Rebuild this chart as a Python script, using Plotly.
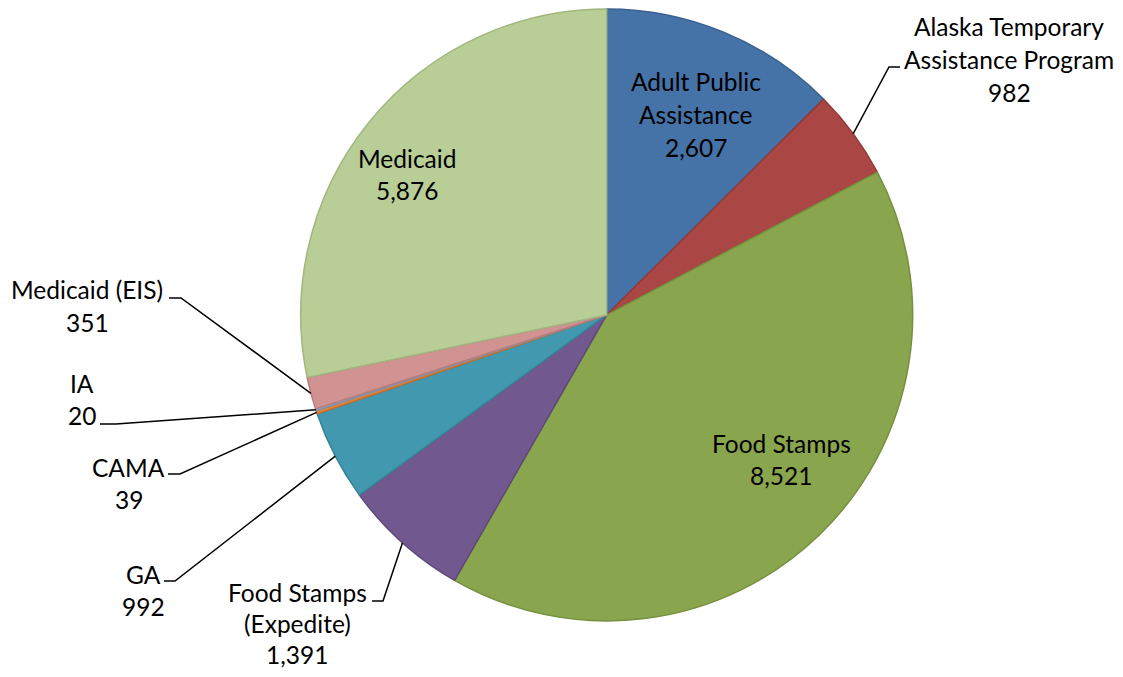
import math
import plotly.graph_objects as go

# ---- data ----
categories = ["Adult Public Assistance", "Alaska Temporary Assistance Program",
              "Food Stamps", "Food Stamps (Expedite)", "GA", "CAMA", "IA",
              "Medicaid (EIS)", "Medicaid"]
values = [2607, 982, 8521, 1391, 992, 39, 20, 351, 5876]
label_lines = [["Adult Public", "Assistance"],
               ["Alaska Temporary", "Assistance Program"],
               ["Food Stamps"],
               ["Food Stamps", "(Expedite)"],
               ["GA"], ["CAMA"], ["IA"],
               ["Medicaid (EIS)"],
               ["Medicaid"]]

# ---- styles ----
colors = ["#4572A7", "#AA4643", "#89A54E", "#71588F", "#4198AF",
          "#DB843D", "#93A9CF", "#D19392", "#B9CD96"]
border = ["#3A6191", "#933B39", "#76903F", "#5F4A79", "#368296",
          "#C07030", "#7D92B6", "#B87C7B", "#A2B67F"]

OFF = 8                      # page margin of the html body
W, H = 1123 - 2 * OFF, 677 - 2 * OFF
CX, CY, R = 606.7, 314.9, 306.0   # pie centre / radius in screen pixels

# label layout: (centre x px, first-line y px, line spacing, elbow)
# elbow = (x_start, x_end, y) or None
label_pos = [
    (695.5, 82, 32.5, None),
    (1009, 27, 32.5, (900, 889, 67)),
    (781, 443, 32.5, None),
    (297, 592, 31.0, (372, 383, 601)),
    (143, 574, 32.5, (164, 175, 581)),
    (129, 467, 32.5, (168, 180, 474)),
    (82, 383, 32.5, (100, 116, 424)),
    (87, 290, 32.5, (169, 181, 298)),
    (407, 158, 32.5, None),
]
FONT = "Lato"
FSIZE = 24.5

def px(x):
    return (x - OFF) / W

def py(y):
    return 1 - (y - OFF) / H

fig = go.Figure()
fig.add_trace(go.Pie(
    labels=categories, values=values, sort=False, direction="clockwise",
    rotation=0, textinfo="none", hoverinfo="label+value",
    marker=dict(colors=colors, line=dict(color=border, width=1.5)),
    domain=dict(x=[px(CX - R), px(CX + R)], y=[py(CY + R), py(CY - R)]),
    showlegend=False,
))

total = sum(values)
annotations = []
shapes = []
cum = 0
for i, v in enumerate(values):
    mid = (cum + v / 2) / total * 2 * math.pi
    cum += v
    lx, ly, lh, elbow = label_pos[i]
    lines = label_lines[i] + [f"{v:,}"]
    for k, t in enumerate(lines):
        annotations.append(dict(
            x=px(lx), y=py(ly + k * lh), xref="paper", yref="paper",
            text=t, showarrow=False, xanchor="center", yanchor="middle",
            font=dict(family=FONT, size=FSIZE, color="#000000")))
    if elbow is not None:
        ex = CX + R * math.sin(mid)
        ey = CY - R * math.cos(mid)
        x0, x1, yy = elbow
        path = (f"M {px(x0)} {py(yy)} L {px(x1)} {py(yy)} "
                f"L {px(ex)} {py(ey)}")
        shapes.append(dict(type="path", xref="paper", yref="paper", path=path,
                           line=dict(color="#000000", width=1.5)))

fig.update_layout(
    width=W, height=H, margin=dict(l=0, r=0, t=0, b=0),
    paper_bgcolor="#FFFFFF", plot_bgcolor="#FFFFFF",
    annotations=annotations, shapes=shapes,
)
fig.write_html("out.html")
